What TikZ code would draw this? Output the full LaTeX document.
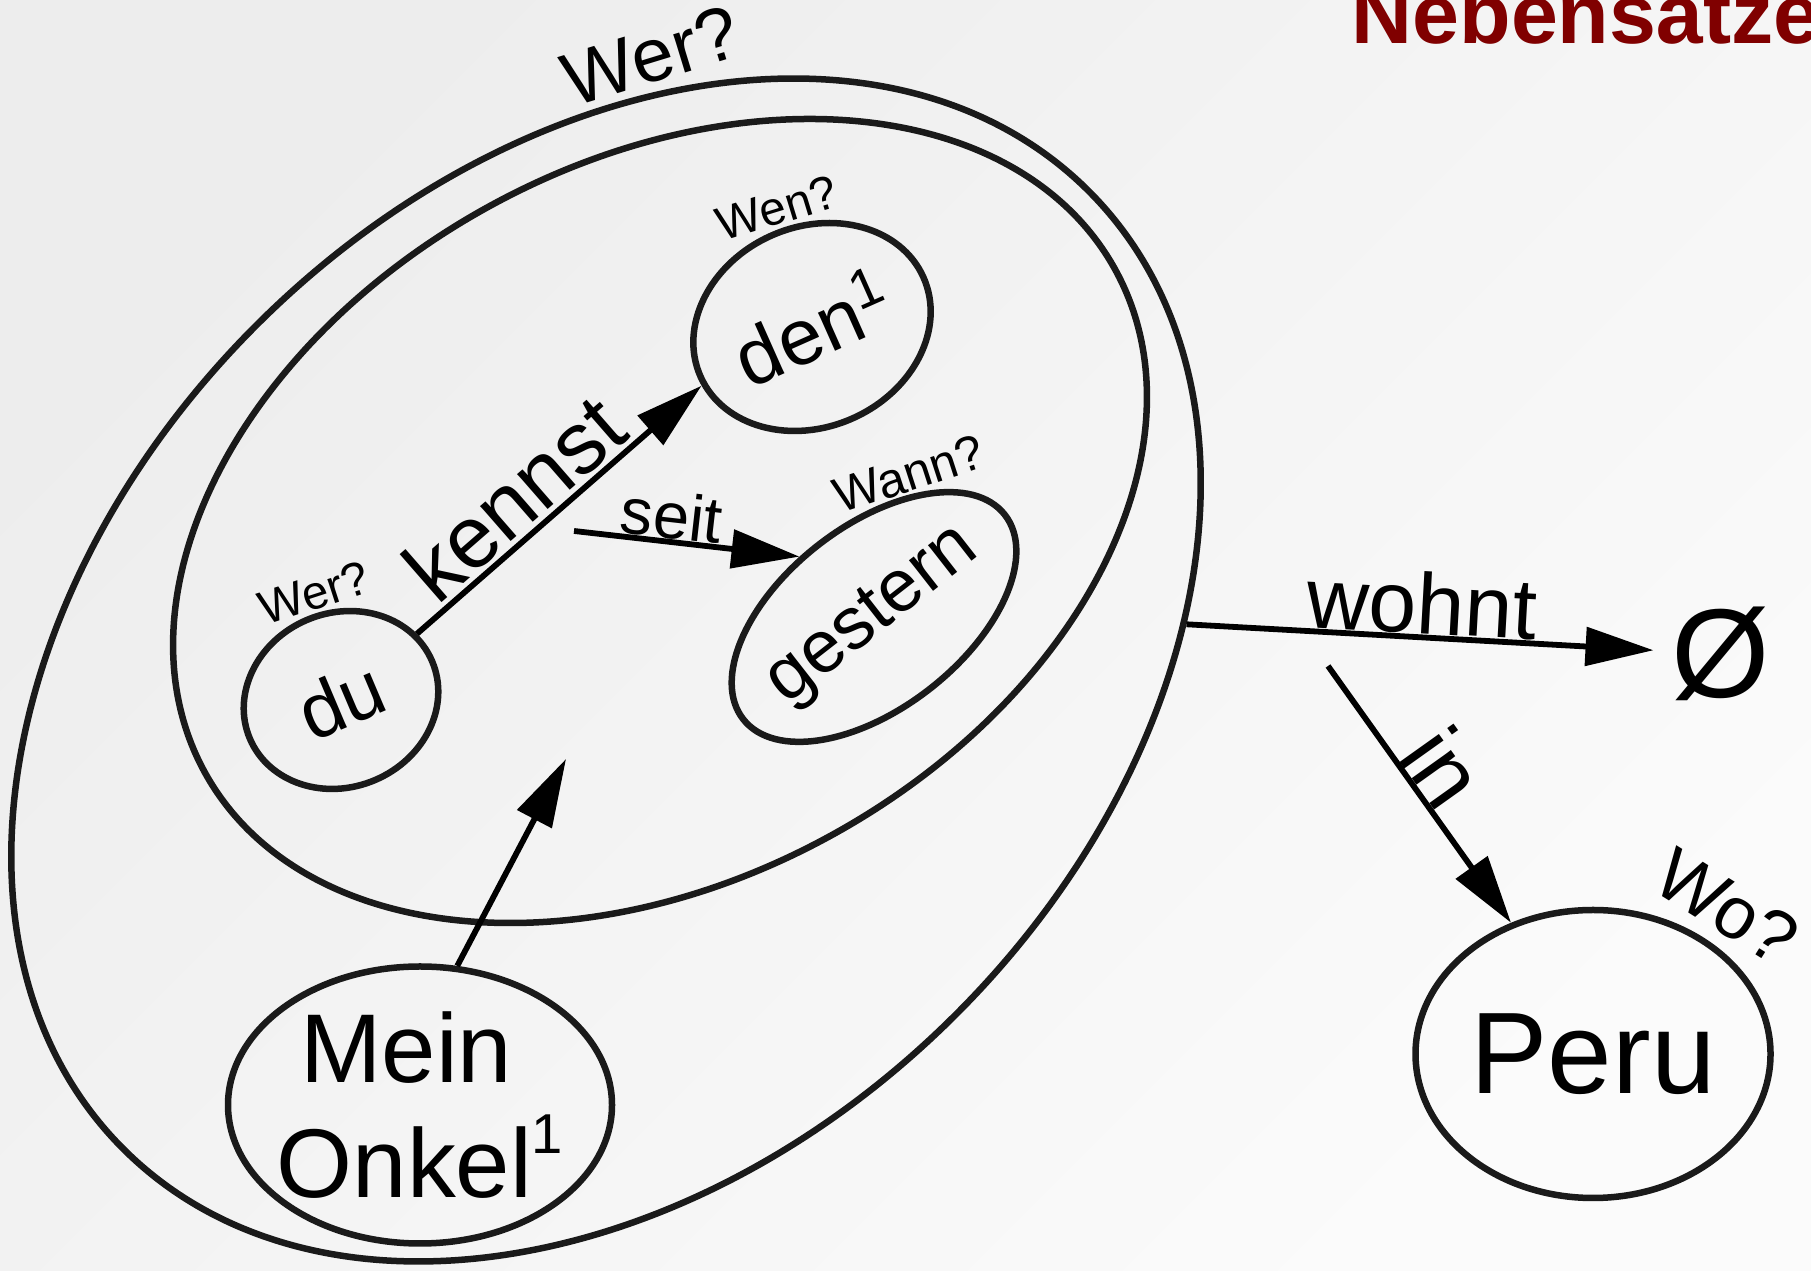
\documentclass[tikz,border=0pt]{standalone}
\usepackage{fontspec}
\setmainfont{Liberation Sans}
\usepackage{tikz}
\usetikzlibrary{shapes,arrows.meta,positioning}
\definecolor{Maroon}{RGB}{128,0,0}
\definecolor{Ink}{RGB}{26,26,26}
\definecolor{PaperA}{RGB}{237,237,237}
\definecolor{PaperB}{RGB}{251,251,251}

\begin{document}
\begin{tikzpicture}
    [every node/.style={inner sep=0pt},
     blob/.style={draw=Ink, ellipse, line width=1.85pt},
     link/.style={line width=1.65pt, -{Triangle[length=6.8mm, width=3.8mm]}},
     ask/.style={font=\fontsize{13.5}{16}\selectfont}]
    \useasboundingbox (0, 0) rectangle (18.11, 12.71);
    \clip (0, 0) rectangle (18.11, 12.71);
    \shade [top color=PaperA, bottom color=PaperB, shading angle=45] (0, 0) rectangle (18.11, 12.71);

    % the clauses
    \node (1) [blob, minimum width=13.6cm, minimum height=9.82cm, rotate=44.5] at (6.06, 6.01) {};
    \node (2) [blob, minimum width=10.4cm, minimum height=7.16cm, rotate=29] at (6.60, 7.50) {};

    \node (3) [blob, minimum width=1.98cm, minimum height=1.74cm, rotate=23,
      font=\fontsize{22}{26}\selectfont] at (3.41, 5.71) {du};
    \node (4) [blob, minimum width=2.44cm, minimum height=2.0cm, rotate=24,
      font=\fontsize{22.5}{26}\selectfont] at (8.12, 9.44) {den\textsuperscript{1}};
    \node (5) [blob, minimum width=3.32cm, minimum height=1.82cm, rotate=38,
      font=\fontsize{21}{25}\selectfont] at (8.74, 6.54) {\makebox[0pt]{gestern}};
    \node (6) [blob, minimum width=3.84cm, minimum height=2.77cm] at (4.20, 1.66) {};
    \node (6t) [align=center, font=\fontsize{27.8}{32.7}\selectfont] at (6)
      {Mein\hspace*{0.28em}\\Onkel\raisebox{0.45em}{\fontsize{16}{16}\selectfont 1}};
    \node (7) [blob, minimum width=3.55cm, minimum height=2.88cm,
      font=\fontsize{33}{40}\selectfont] at (15.93, 2.17) {Peru};
    \node (8) [inner sep=5pt, font=\fontsize{36}{44}\selectfont] at (17.21, 6.17) {Ø};

    % questions
    \node (q1) [rotate=17, font=\fontsize{21.5}{26}\selectfont] at (6.51, 12.15) {Wer?};
    \node (q2) [ask, rotate=17] at (7.77, 10.63) {Wen?};
    \node (q3) [ask, rotate=18] at (3.14, 6.78) {Wer?};
    \node (q4) [ask, rotate=18, font=\fontsize{14}{17}\selectfont] at (9.09, 7.97) {Wann?};
    \node (q5) [rotate=-32, font=\fontsize{21}{25}\selectfont] at (17.27, 3.64) {Wo?};

    \node (title) [anchor=base west, text=Maroon, font=\fontsize{24}{28}\selectfont\bfseries]
      at (13.51, 12.27) {Nebensätze};

    \coordinate (k1) at (5.74, 7.40);
    \coordinate (k2) at (5.66, 5.12);
    \coordinate (k3) at (13.28, 6.05);

    \draw [link] (3) -- (4.184)
      node [pos=0.43, above=1pt, sloped, font=\fontsize{25}{30}\selectfont] {kennst};
    \draw [link] (k1) -- (5.103)
      node [pos=0.42, above=0pt, sloped, font=\fontsize{18.5}{22}\selectfont] {seit};
    \draw [link] (6.75) -- (k2);
    \draw [link] (1.320) -- (8)
      node [midway, above=0pt, sloped, font=\fontsize{24.5}{29}\selectfont] {wohnt};
    \draw [link] (k3) -- (7.122)
      node [pos=0.475, above=0pt, sloped, font=\fontsize{26}{31}\selectfont] {in};
\end{tikzpicture}
\end{document}
